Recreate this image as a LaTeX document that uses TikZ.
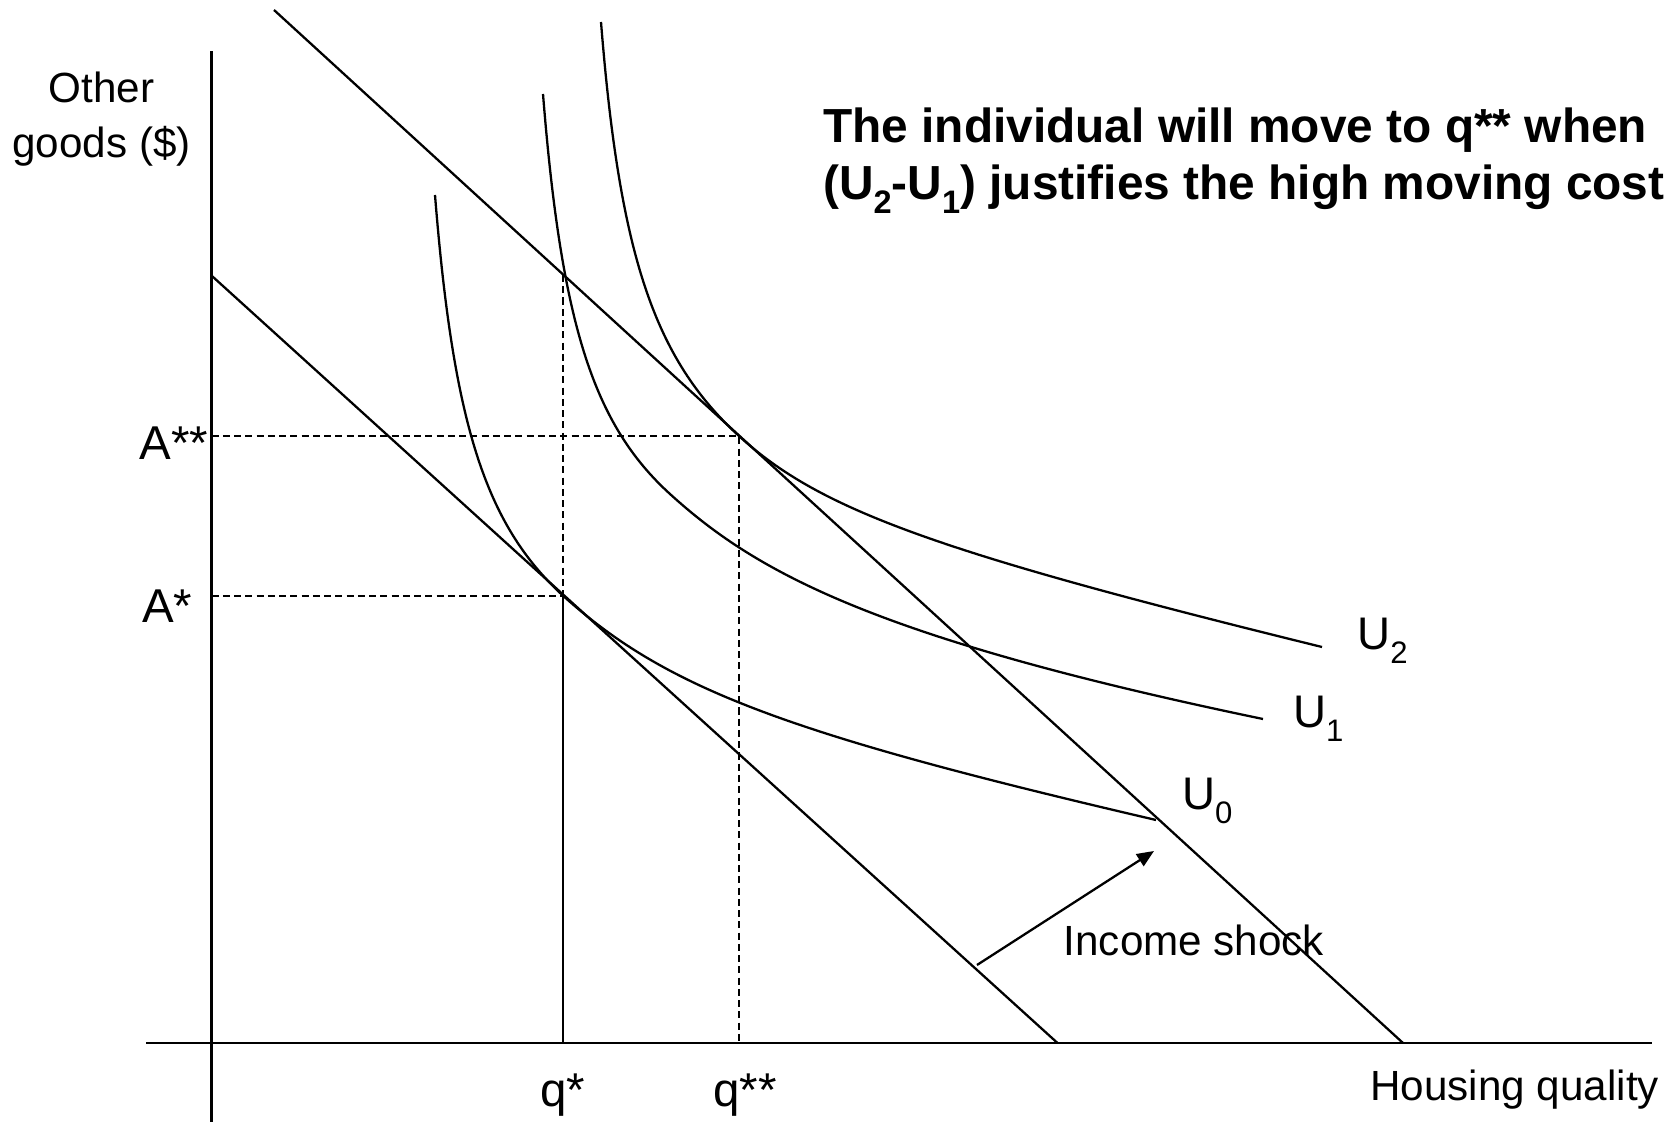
\documentclass[tikz,border=0pt]{standalone}
\usepackage{fontspec}
\setmainfont{Liberation Sans}
\usepackage{graphicx}
\usetikzlibrary{arrows.meta,positioning}

\newcommand{\lowsub}[1]{\raisebox{-0.3em}{\scalebox{0.68}{#1}}}

\begin{document}
\begin{tikzpicture}[
    x=0.01cm, y=-0.01cm,
    axis/.style={line width=0.7pt},
    budget/.style={line width=0.65pt},
    icurve/.style={line width=0.65pt},
    guide/.style={line width=0.65pt, dash pattern=on 2pt off 1.2pt},
    lbl/.style={inner sep=0pt, font=\fontsize{12}{15.5}\selectfont},
    ptlbl/.style={inner sep=0pt, font=\fontsize{13.5}{16}\selectfont},
    ulbl/.style={inner sep=0pt, font=\fontsize{13}{16}\selectfont},
    note/.style={inner sep=0pt, align=left, font=\fontsize{13.6}{16.1}\selectfont\bfseries},
    arr/.style={-{Triangle[length=0.17cm, width=0.14cm]}, line width=0.65pt}
]
\useasboundingbox (0,0) rectangle (1675,1122);

% Axes
\coordinate (ytop) at (211.5,51);
\coordinate (ybot) at (211.5,1122);
\coordinate (xleft) at (146,1043);
\coordinate (xright) at (1652,1043);
\draw[axis] (ybot) -- (ytop);
\draw[axis] (xleft) -- (xright);

% Budget lines
\coordinate (b0top) at (211.5,275.6);
\coordinate (b0end) at (1057.5,1043);
\coordinate (b1top) at (274,10);
\coordinate (b1end) at (1403,1043);
\draw[budget] (b0top) -- (b0end);
\draw[budget] (b1top) -- (b1end);

% Optimal bundles
\coordinate (Astar) at (563,595.7);
\coordinate (Adstar) at (739,436);
\coordinate (qsfoot) at (563,1043);
\coordinate (qdsfoot) at (739,1043);
\coordinate (qstop) at (563,275);
\coordinate (Asaxis) at (211.5,595.7);
\coordinate (Adsaxis) at (211.5,436);

\draw[guide] (Adsaxis) -- (Adstar) -- (qdsfoot);
\draw[guide] (Asaxis) -- (Astar);
\draw[guide] (qstop) -- (Astar);
\draw[budget] (Astar) -- (qsfoot);

% Indifference curves
\draw[icurve] (435,195) .. controls (453.4,424.5) and (485.4,524.5) .. (Astar)
    .. controls (666.2,688.6) and (784.8,733.6) .. (1156,820) coordinate (u0end);
\draw[icurve] (543,94) .. controls (561.4,324) and (593.1,424) .. (670,494)
    .. controls (755.4,571.7) and (873.2,638) .. (1263,719) coordinate (u1end);
\draw[icurve] (601,22) .. controls (619.6,254.9) and (654.1,358.4) .. (Adstar)
    .. controls (819.9,510.1) and (936.5,552.1) .. (1322,647) coordinate (u2end);

% Labels
\node[lbl, align=center] (yname) at (101.5,119) {Other\\goods (\$)};
\node[lbl] (xname) at (1514.7,1089.6) {Housing quality};
\node[ptlbl, anchor=east] (Adslbl) at (209,443) {A**};
\node[ptlbl, anchor=east] (Aslbl) at (193,605.7) {A*};
\node[ptlbl, below=0.3cm of qsfoot] (qslbl) {q*};
\node[ptlbl, below=0.3cm of qdsfoot, xshift=0.06cm] (qdslbl) {q**};
\node[ulbl, anchor=west] (U2) at (1356.6,641) {U\lowsub{2}};
\node[ulbl, anchor=west] (U1) at (1292.5,719) {U\lowsub{1}};
\node[ulbl, anchor=west] (U0) at (1181.5,801) {U\lowsub{0}};

% Income shock
\coordinate (shockfrom) at (977,965);
\coordinate (shockto) at (1154,851);
\draw[arr] (shockfrom) -- (shockto);
\node[lbl, anchor=west] (shock) at (1063,940) {Income shock};

\node[note, anchor=west] (msg) at (822.5,161) {The individual will move to q** when\\(U\lowsub{2}-U\lowsub{1}) justifies the high moving cost};
\end{tikzpicture}
\end{document}
